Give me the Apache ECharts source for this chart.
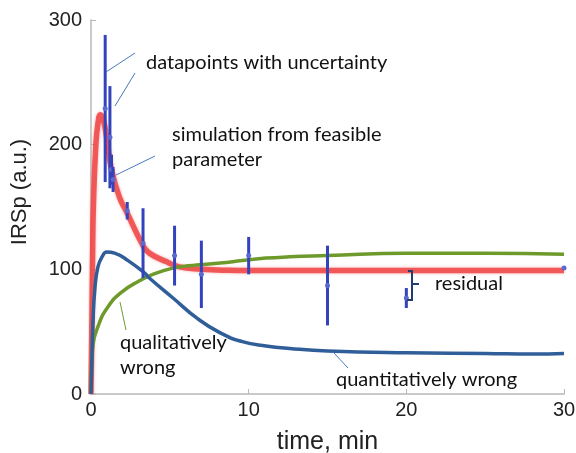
<!DOCTYPE html>
<html>
<head>
<meta charset="utf-8">
<script src="https://cdn.jsdelivr.net/npm/echarts@6/dist/echarts.min.js"></script>
<style>
  html, body { margin: 0; padding: 0; background: #fff; }
  #chart { width: 576px; height: 453px; }
</style>
</head>
<body>
<div id="chart"></div>
<script>
// measured datapoints (time, value, +/- uncertainty)
var errTime  = [0.9, 1.2, 1.3, 1.4, 2.3, 3.3, 5.3, 7, 10, 15, 20, 30];
var errValue = [229, 206, 180, 172, 147, 121, 111, 96, 111, 87, 77, 101];
var errSize  = [59, 41, 12, 10, 7, 28, 24, 27, 15, 32, 8, 1];

// simulation from feasible parameter
var simTime  = [0, 0.05, 0.1, 0.15, 0.3, 0.45, 0.6, 0.8, 1.0, 1.3, 1.8, 2.3, 3.3, 3.7, 4.8, 5.6, 7, 8, 10, 15, 20, 25, 30];
var simValue = [0, 50, 110, 150, 198, 218, 224, 219, 205, 180, 158, 145, 119, 113, 106, 102, 100, 99.5, 99, 99, 99, 99, 99];

// quantitatively wrong
var quanTime  = [0, 0.05, 0.13, 0.25, 0.44, 0.7, 1.0, 1.5, 2.35, 3.4, 3.7, 5.2, 6.7, 8.2, 9.6, 11.1, 12.6, 15, 20, 25, 28, 30];
var quanValue = [0, 25, 59, 85, 102, 110, 114, 113, 107, 97, 93, 77, 61, 49, 42, 38.5, 36.5, 34.5, 33, 32.5, 32, 32.5];

// qualitatively wrong
var qualTime  = [0, 0.03, 0.1, 0.44, 1.08, 1.97, 3.1, 3.74, 5.2, 6.7, 8.2, 9.6, 11.1, 12.6, 15, 20, 25, 30];
var qualValue = [0, 20, 36, 54, 70, 82, 91, 95, 101, 103.5, 105, 107, 109, 110, 111, 113, 113, 112];

var xTicks = [0, 10, 20, 30];
var yTicks = [0, 100, 200, 300];

function pairs(xs, ys) {
  var out = [];
  for (var i = 0; i < xs.length; i++) out.push([xs[i], ys[i]]);
  return out;
}

var errData = [];
for (var i = 0; i < errTime.length; i++) errData.push([errTime[i], errValue[i], errSize[i]]);

var chart = echarts.init(document.getElementById('chart'));

var txtFont = 'Lato, "Open Sans", sans-serif';
var axFont = '"Liberation Sans", Arial, sans-serif';
var leader = '#4a78c0';

chart.setOption({
  animation: false,
  grid: { left: 91, right: 12, top: 20, bottom: 59, containLabel: false, outerBoundsMode: 'none' },
  xAxis: {
    type: 'value', min: 0, max: 30, interval: 10,
    name: 'time, min', nameLocation: 'middle', nameGap: 36,
    nameTextStyle: { fontFamily: axFont, fontSize: 25, color: '#222' },
    axisLine: { lineStyle: { color: '#b8b8b8', width: 1.5 } },
    axisTick: { inside: true, length: 5, lineStyle: { color: '#b8b8b8' } },
    axisLabel: { fontFamily: axFont, fontSize: 20, color: '#222', margin: 6,
      formatter: function (v) { return xTicks.indexOf(v) >= 0 ? String(v) : ''; } },
    splitLine: { show: false }
  },
  yAxis: {
    type: 'value', min: 0, max: 300, interval: 100,
    name: 'IRSp (a.u.)', nameLocation: 'middle', nameGap: 60,
    nameTextStyle: { fontFamily: axFont, fontSize: 22, color: '#222', padding: [0, 0, 0, 30] },
    axisLine: { show: true, lineStyle: { color: '#b8b8b8', width: 1.5 } },
    axisTick: { show: true, inside: true, length: 5, lineStyle: { color: '#b8b8b8' } },
    axisLabel: { fontFamily: axFont, fontSize: 20, color: '#222', margin: 9,
      formatter: function (v) { return yTicks.indexOf(v) >= 0 ? String(v) : ''; } },
    splitLine: { show: false }
  },
  series: [
    {
      type: 'line', data: pairs(qualTime, qualValue), smooth: 0.5,
      showSymbol: false, lineStyle: { color: '#6e9a2c', width: 3.5 }, z: 3
    },
    {
      type: 'line', data: pairs(quanTime, quanValue), smooth: 0.5,
      showSymbol: false, lineStyle: { color: '#2f5e98', width: 3.5 }, z: 3
    },
    {
      type: 'line', data: pairs(simTime, simValue), smooth: 0.5,
      showSymbol: false,
      lineStyle: { color: 'rgba(240,70,70,0.85)', width: 5.5, shadowBlur: 3, shadowColor: 'rgba(240,90,90,0.6)' }, z: 2
    },
    {
      type: 'custom', data: errData, z: 5,
      renderItem: function (params, api) {
        var x = api.value(0), y = api.value(1), e = api.value(2);
        var top = api.coord([x, y + e]);
        var bot = api.coord([x, y - e]);
        var c = api.coord([x, y]);
        return {
          type: 'group',
          children: [
            { type: 'line', shape: { x1: top[0], y1: top[1], x2: bot[0], y2: bot[1] },
              style: { stroke: '#3342bd', lineWidth: 3 } },
            { type: 'circle', shape: { cx: c[0], cy: c[1], r: 2.5 },
              style: { fill: '#5a6ad0' } }
          ]
        };
      }
    }
  ],
  graphic: [
    // datapoints with uncertainty
    { type: 'line', shape: { x1: 106, y1: 72, x2: 135, y2: 53 }, style: { stroke: leader, lineWidth: 1 }, z: 10 },
    { type: 'line', shape: { x1: 115, y1: 106, x2: 135, y2: 73 }, style: { stroke: leader, lineWidth: 1 }, z: 10 },
    { type: 'text', left: 146, top: 53, style: { text: 'datapoints with uncertainty', font: '20px ' + txtFont, fill: '#111' } },
    // simulation
    { type: 'line', shape: { x1: 116, y1: 175, x2: 155, y2: 156 }, style: { stroke: leader, lineWidth: 1 }, z: 10 },
    { type: 'text', left: 172, top: 122, style: { text: 'simulation from feasible\nparameter', font: '20px ' + txtFont, fill: '#111', lineHeight: 25 } },
    // residual brace
    { type: 'polyline', shape: { points: [[408, 271], [412, 271], [412, 284], [419, 284], [412, 284], [412, 300], [407, 300]] },
      style: { stroke: '#1f3d70', lineWidth: 2, fill: null }, z: 10 },
    { type: 'text', left: 435, top: 274, style: { text: 'residual', font: '20px ' + txtFont, fill: '#111' } },
    // qualitatively wrong
    { type: 'line', shape: { x1: 120, y1: 302, x2: 126, y2: 330 }, style: { stroke: '#6e9a2c', lineWidth: 1 }, z: 10 },
    { type: 'text', left: 120, top: 330, style: { text: 'qualitatively\nwrong', font: '20px ' + txtFont, fill: '#111', lineHeight: 25 } },
    // quantitatively wrong
    { type: 'line', shape: { x1: 333, y1: 352, x2: 348, y2: 368 }, style: { stroke: leader, lineWidth: 1 }, z: 10 },
    { type: 'text', left: 336, top: 370, style: { text: 'quantitatively wrong', font: '20px ' + txtFont, fill: '#111' } }
  ]
});
</script>
</body>
</html>
